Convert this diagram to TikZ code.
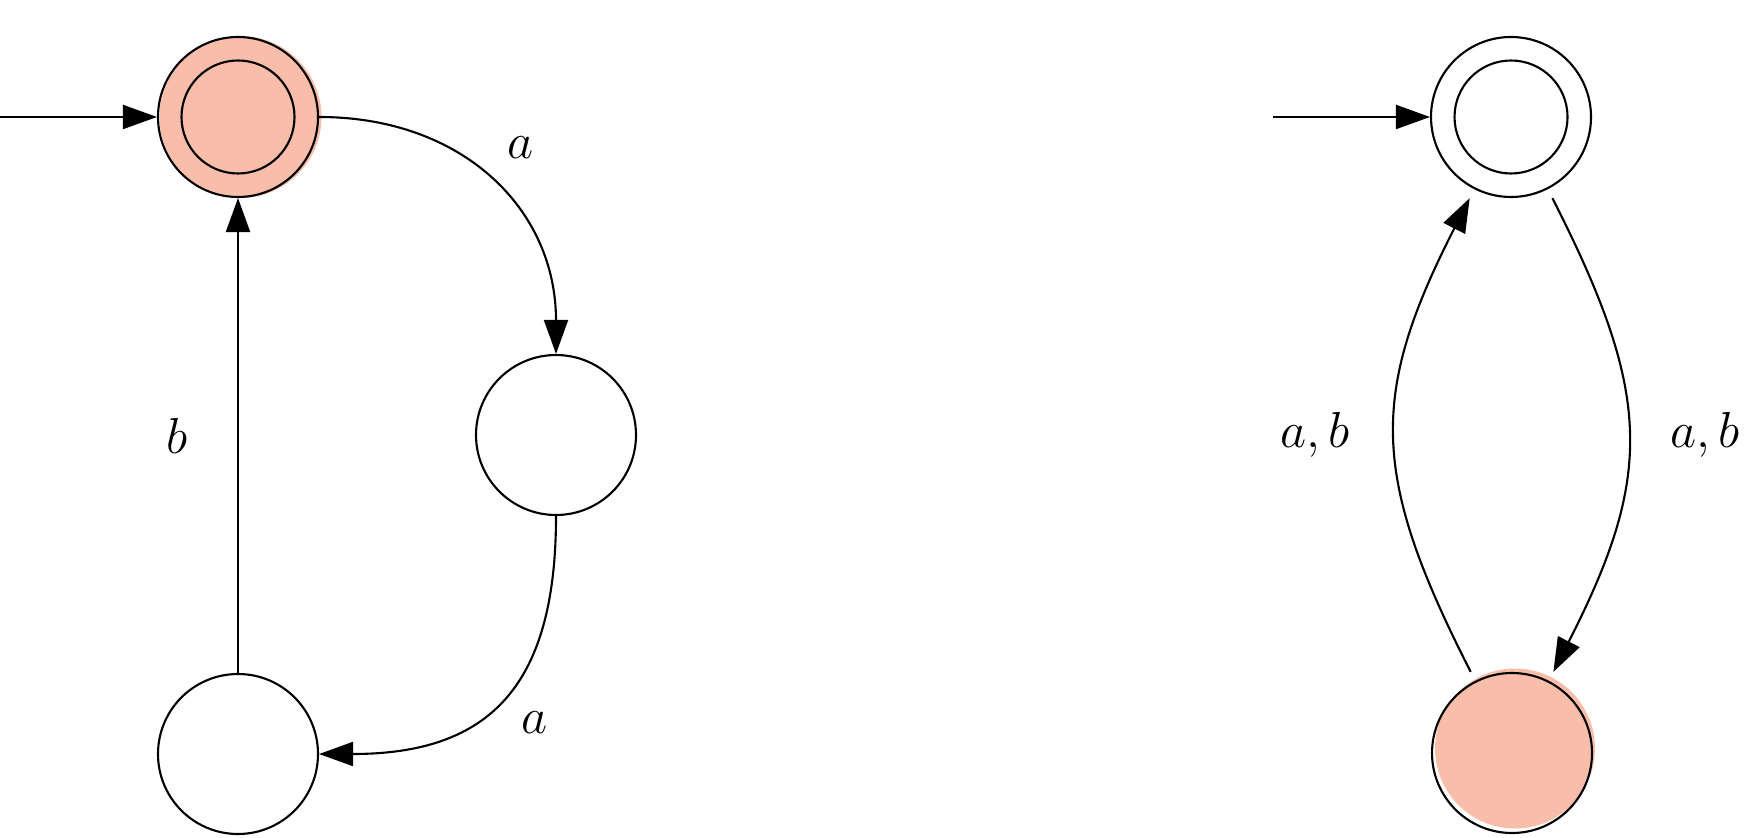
\documentclass[tikz,border=0pt]{standalone}
\usetikzlibrary{arrows.meta,positioning,calc,backgrounds}
\definecolor{hilite}{RGB}{248,190,170}
\begin{document}
\begin{tikzpicture}[>={Triangle[length=3.4mm,width=2.4mm]}, line width=0.6pt,
    state/.style={circle, draw, minimum size=1.6cm, inner sep=0pt},
    lbl/.style={font=\fontsize{13.5}{16}\selectfont},
    gap/.style={shorten <=1mm, shorten >=1mm}]
    \useasboundingbox (0,0) rectangle (17.62,8.37);

    % Left automaton
    \node[state] (q0) at (2.38, 7.20) {};
    \node[state] (q1) at (5.56, 4.02) {};
    \node[state] (q2) at (2.38, 0.83) {};
    \draw (q0) circle (0.565);
    \coordinate (q0in) at (0, 7.20);

    \draw[->] (q0in) -- (q0);
    \draw[->] (q0.east) to[out=0, in=90, looseness=1.1]
        node[lbl, above right=1mm and 0.3mm] {$a$} (q1.north);
    \draw[->] (q1.south) to[out=-90, in=0, looseness=1.3]
        node[lbl, below right=0mm and 0.7mm] {$a$} (q2.east);
    \draw[->] (q2) -- node[lbl, left=0.38cm] {$b$} (q0);

    % Right automaton
    \node[state] (p0) at (15.11, 7.20) {};
    \node[state] (p1) at (15.12, 0.84) {};
    \draw (p0) circle (0.565);
    \coordinate (p0in) at (12.73, 7.20);

    \draw[->] (p0in) -- (p0);
    \draw[->, gap] (p0) to[out=-63, in=63, looseness=1.2]
        node[lbl, right=0.31cm] {$a, b$} (p1);
    \draw[->, gap] (p1) to[out=117, in=-117, looseness=1.2]
        node[lbl, left=0.34cm] {$a, b$} (p0);

    % Highlights
    \begin{scope}[on background layer]
        \fill[hilite] ($(q0)+(0.025,0)$) circle (0.81);
        \fill[hilite] ($(p1)+(0.03,0.045)$) circle (0.80);
    \end{scope}
\end{tikzpicture}
\end{document}
